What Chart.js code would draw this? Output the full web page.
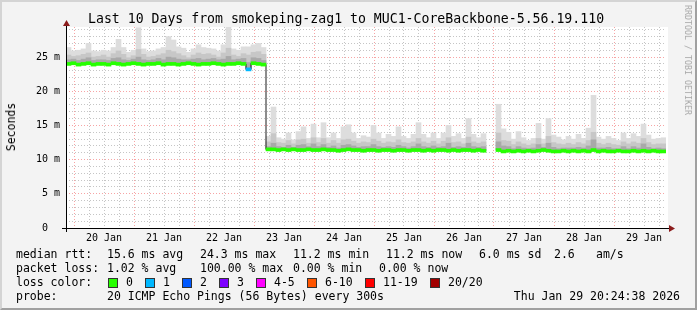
<!DOCTYPE html>
<html>
<head>
<meta charset="utf-8">
<script src="https://cdn.jsdelivr.net/npm/chart.js@4/dist/chart.umd.min.js"></script>
<style>
  body { margin: 0; background: #f3f3f3; }
  #wrap { position: relative; width: 697px; height: 310px; overflow: hidden; background: #f3f3f3; }
  #frame { position: absolute; left: 0; top: 0; width: 697px; height: 310px; box-sizing: border-box;
           border-left: 2px solid #d4d4d4; border-top: 2px solid #d4d4d4;
           border-right: 2px solid #a0a0a0; border-bottom: 2px solid #a0a0a0; pointer-events: none; }
  canvas { position: absolute; left: 0; top: 0; }
  .t { position: absolute; font-family: "DejaVu Sans Mono", monospace; font-size: 11.5px; line-height: 14px;
       color: #000; white-space: pre; }
  #title { position: absolute; left: 88px; top: 11px; font-family: "DejaVu Sans Mono", monospace;
           font-size: 13.2px; line-height: 16px; white-space: pre; color: #000; }
  #ylab { position: absolute; left: 11px; top: 127px; transform: translate(-50%, -50%) rotate(-90deg);
          font-family: "DejaVu Sans Mono", monospace; font-size: 11.5px; white-space: pre; }
  #credit { position: absolute; left: 688px; top: 60px; transform: translate(-50%, -50%) rotate(90deg);
            font-family: "DejaVu Sans Mono", monospace; font-size: 8.3px; color: #a8a8a8; white-space: pre; }
  .box { position: absolute; width: 8px; height: 8px; border: 1px solid #333; }
</style>
</head>
<body>
<div id="wrap">
  <canvas id="smoke" width="697" height="310"></canvas>
  <div id="title">Last 10 Days from smokeping-zag1 to MUC1-CoreBackbone-5.56.19.110</div>
  <div id="ylab">Seconds</div>
  <div id="credit">RRDTOOL / TOBI OETIKER</div>

  <div class="t" style="left:16px;top:247px">median rtt:</div>
  <div class="t" style="left:107px;top:247px">15.6 ms avg</div>
  <div class="t" style="left:200px;top:247px">24.3 ms max</div>
  <div class="t" style="left:293px;top:247px">11.2 ms min</div>
  <div class="t" style="left:386px;top:247px">11.2 ms now</div>
  <div class="t" style="left:479px;top:247px">6.0 ms sd</div>
  <div class="t" style="left:554px;top:247px">2.6</div>
  <div class="t" style="left:596px;top:247px">am/s</div>

  <div class="t" style="left:16px;top:261px">packet loss:</div>
  <div class="t" style="left:107px;top:261px">1.02 % avg</div>
  <div class="t" style="left:200px;top:261px">100.00 % max</div>
  <div class="t" style="left:293px;top:261px">0.00 % min</div>
  <div class="t" style="left:379px;top:261px">0.00 % now</div>

  <div class="t" style="left:16px;top:275px">loss color:</div>
  <div id="lossLegend"></div>

  <div class="t" style="left:16px;top:289px">probe:</div>
  <div class="t" style="left:107px;top:289px">20 ICMP Echo Pings (56 Bytes) every 300s</div>
  <div class="t" style="right:17px;top:289px">Thu Jan 29 20:24:38 2026</div>
  <div id="frame"></div>
</div>

<script>
// ======================================================================
// Data: 2-hour bins, first bin starts Jan 19 20:48 (hours from Jan 20 00:00)
// ======================================================================
const startHour = -3.2;
const binHours = 2;
const dayLabels = ["20 Jan", "21 Jan", "22 Jan", "23 Jan", "24 Jan", "25 Jan", "26 Jan", "27 Jan", "28 Jan", "29 Jan"];

// median rtt in ms
const medianRtt = [
  24.0, 24.1, 23.9, 24.0, 24.1, 23.9, 24.0, 24.0, 23.9, 24.1,
  24.0, 23.9, 24.0, 24.1, 24.0, 23.9, 24.0, 24.0, 24.1, 23.9,
  24.0, 24.0, 23.9, 24.0, 24.1, 24.0, 23.9, 24.0, 24.0, 24.1,
  24.0, 23.9, 24.0, 24.0, 24.1, 24.0, 23.2, 24.1, 24.0, 23.9,
  11.5, 11.5, 11.4, 11.5, 11.4, 11.5, 11.4, 11.4, 11.5, 11.4,
  11.4, 11.5, 11.4, 11.4, 11.3, 11.4, 11.5, 11.4, 11.4, 11.3,
  11.4, 11.4, 11.3, 11.4, 11.4, 11.3, 11.4, 11.4, 11.3, 11.4,
  11.4, 11.3, 11.4, 11.3, 11.4, 11.4, 11.3, 11.4, 11.3, 11.4,
  11.4, 11.3, 11.4, 11.3, null, null, 11.4, 11.2, 11.3, 11.2,
  11.3, 11.2, 11.3, 11.2, 11.3, 11.4, 11.3, 11.2, 11.2, 11.3,
  11.2, 11.3, 11.2, 11.3, 11.2, 11.4, 11.2, 11.3, 11.2, 11.2,
  11.3, 11.2, 11.2, 11.3, 11.2, 11.3, 11.2, 11.3, 11.2, 11.2
];

// top of the outer (lightest) smoke, ms
const smokeMax = [
  26.4, 25.9, 26.0, 26.2, 27.0, 25.9, 25.8, 26.0, 25.9, 26.4,
  27.6, 26.4, 25.7, 26.0, 29.3, 26.2, 25.8, 25.9, 26.2, 26.4,
  28.0, 27.5, 26.5, 26.3, 25.7, 26.2, 26.8, 26.4, 26.3, 26.2,
  25.9, 26.8, 29.4, 26.2, 26.0, 26.5, 26.5, 26.8, 27.0, 26.4,
  13.4, 17.7, 13.2, 13.0, 13.9, 12.9, 14.1, 14.8, 13.1, 15.2,
  13.2, 15.4, 13.2, 13.9, 13.1, 14.8, 15.1, 13.9, 13.1, 13.5,
  13.3, 15.0, 13.9, 13.1, 13.7, 13.4, 14.8, 13.4, 13.1, 13.7,
  15.4, 13.7, 13.2, 13.9, 13.1, 13.9, 15.0, 13.4, 13.8, 13.1,
  16.0, 13.7, 13.2, 13.8, null, null, 18.1, 14.5, 14.0, 13.0,
  14.1, 13.2, 12.8, 13.1, 15.3, 13.0, 16.0, 13.6, 13.3, 12.9,
  13.4, 13.0, 13.7, 13.1, 14.6, 19.4, 13.3, 13.0, 13.4, 13.1,
  12.8, 13.9, 13.1, 13.8, 13.4, 15.2, 13.6, 13.0, 13.1, 13.2
];

// top of the middle smoke band, ms
const smokeMid = [
  25.3, 25.1, 25.2, 25.4, 25.6, 25.0, 25.1, 25.3, 25.0, 25.5,
  25.9, 25.4, 24.9, 25.2, 26.1, 25.4, 25.0, 25.1, 25.3, 25.5,
  26.0, 25.8, 25.5, 25.2, 24.9, 25.3, 25.6, 25.4, 25.5, 25.3,
  25.0, 25.6, 26.3, 25.3, 25.1, 25.5, 25.3, 25.7, 25.8, 25.4,
  12.6, 13.8, 12.5, 12.4, 12.8, 12.3, 12.9, 13.0, 12.4, 13.2,
  12.5, 13.1, 12.4, 12.8, 12.4, 12.9, 13.0, 12.7, 12.4, 12.6,
  12.5, 13.0, 12.7, 12.4, 12.6, 12.5, 12.9, 12.5, 12.4, 12.6,
  13.1, 12.6, 12.4, 12.7, 12.3, 12.7, 13.2, 12.5, 12.6, 12.3,
  13.3, 12.6, 12.4, 12.6, null, null, 13.9, 12.8, 12.7, 12.2,
  12.6, 12.3, 12.1, 12.3, 13.1, 12.3, 13.4, 12.5, 12.3, 12.2,
  12.4, 12.2, 12.5, 12.3, 12.8, 14.0, 12.4, 12.2, 12.4, 12.2,
  12.1, 12.6, 12.3, 12.6, 12.4, 13.1, 12.5, 12.2, 12.3, 12.3
];

// top of the inner (darkest) smoke band, ms
const smokeInner = [
  24.6, 24.7, 24.5, 24.7, 24.9, 24.5, 24.6, 24.6, 24.5, 24.8,
  24.9, 24.6, 24.5, 24.7, 25.0, 24.6, 24.5, 24.6, 24.8, 24.6,
  25.0, 24.9, 24.7, 24.6, 24.6, 24.7, 24.8, 24.6, 24.7, 24.8,
  24.6, 24.7, 25.1, 24.6, 24.7, 24.8, 24.2, 24.9, 24.8, 24.5,
  11.9, 12.4, 11.9, 11.8, 12.1, 11.8, 12.1, 12.2, 11.9, 12.3,
  11.9, 12.2, 11.8, 12.0, 11.7, 12.1, 12.2, 12.0, 11.8, 11.9,
  11.9, 12.2, 11.9, 11.8, 11.9, 11.8, 12.1, 11.9, 11.7, 11.9,
  12.3, 11.9, 11.8, 12.0, 11.8, 11.9, 12.4, 11.8, 11.9, 11.8,
  12.4, 11.9, 11.8, 11.9, null, null, 12.6, 12.0, 11.9, 11.6,
  11.9, 11.7, 11.6, 11.7, 12.2, 11.8, 12.4, 11.8, 11.6, 11.7,
  11.7, 11.7, 11.8, 11.7, 12.0, 12.9, 11.7, 11.7, 11.8, 11.6,
  11.6, 11.9, 11.6, 11.9, 11.7, 12.3, 11.8, 11.6, 11.7, 11.6
];

// lost pings out of 20 per bin
const lossCount = [
  0, 0, 0, 0, 0, 0, 0, 0, 0, 0, 0, 0, 0, 0, 0, 0, 0, 0, 0, 0,
  0, 0, 0, 0, 0, 0, 0, 0, 0, 0, 0, 0, 0, 0, 0, 0, 1, 0, 0, 0,
  0, 0, 0, 0, 0, 0, 0, 0, 0, 0, 0, 0, 0, 0, 0, 0, 0, 0, 0, 0,
  0, 0, 0, 0, 0, 0, 0, 0, 0, 0, 0, 0, 0, 0, 0, 0, 0, 0, 0, 0,
  0, 0, 0, 0, 0, 0, 0, 0, 0, 0, 0, 0, 0, 0, 0, 0, 0, 0, 0, 0,
  0, 0, 0, 0, 0, 0, 0, 0, 0, 0, 0, 0, 0, 0, 0, 0, 0, 0, 0, 0
];

const lossLabels = ["0", "1", "2", "3", "4-5", "6-10", "11-19", "20/20"];
const lossColors = ["#26ff00", "#00b8ff", "#0059ff", "#7e00ff", "#ff00ff", "#ff5500", "#ff0000", "#a10000"];
const lossUpper = [0, 1, 2, 3, 5, 10, 19, 20];

// ======================================================================
// Loss color legend row
// ======================================================================
const boxLeft = [108, 145, 182, 219, 256, 307, 365, 430];
const lossLegend = document.getElementById("lossLegend");
lossLabels.forEach((label, i) => {
  const box = document.createElement("div");
  box.className = "box";
  box.style.left = boxLeft[i] + "px";
  box.style.top = "278px";
  box.style.background = lossColors[i];
  lossLegend.appendChild(box);
  const txt = document.createElement("div");
  txt.className = "t";
  txt.style.left = boxLeft[i] + 18 + "px";
  txt.style.top = "275px";
  txt.textContent = label;
  lossLegend.appendChild(txt);
});

// ======================================================================
// Chart
// ======================================================================
const binLabels = medianRtt.map((_, i) => startHour + i * binHours);
const endHour = startHour + medianRtt.length * binHours;
const lossColorOf = (n) => lossColors[lossUpper.findIndex((u) => n <= u)];
const band = (tops) => tops.map((v, i) => (v == null ? null : [medianRtt[i], v]));

// grid every 6 hours, day label at noon
function timeTicks() {
  const t = [];
  for (let v = 0; v < endHour; v += 6) {
    t.push({ value: v, label: v % 24 === 12 ? dayLabels[(v - 12) / 24] : "" });
  }
  return t;
}

const gridRed = "rgba(240, 90, 90, 0.55)";
const gridGray = "rgba(150, 150, 150, 0.55)";
const tickFont = { family: "DejaVu Sans Mono", size: 10 };

const axisPlugin = {
  id: "axisPlugin",
  beforeDraw(chart) {
    const { ctx, chartArea: a } = chart;
    ctx.save();
    ctx.fillStyle = "#ffffff";
    ctx.fillRect(a.left, a.top, a.right - a.left + 2, a.bottom - a.top);
    ctx.restore();
  },
  afterDraw(chart) {
    const { ctx, chartArea: a } = chart;
    ctx.save();
    ctx.strokeStyle = "#000";
    ctx.lineWidth = 1;
    ctx.beginPath();
    ctx.moveTo(a.left - 4, a.bottom + 0.5);
    ctx.lineTo(a.right + 4, a.bottom + 0.5);
    ctx.moveTo(a.left + 0.5, a.bottom + 4);
    ctx.lineTo(a.left + 0.5, a.top - 2);
    ctx.stroke();
    ctx.fillStyle = "#8b1c1c";
    ctx.beginPath();
    ctx.moveTo(a.right + 3, a.bottom - 3);
    ctx.lineTo(a.right + 9, a.bottom + 0.5);
    ctx.lineTo(a.right + 3, a.bottom + 4);
    ctx.fill();
    ctx.beginPath();
    ctx.moveTo(a.left - 3, a.top - 1);
    ctx.lineTo(a.left + 0.5, a.top - 7);
    ctx.lineTo(a.left + 4, a.top - 1);
    ctx.fill();
    ctx.restore();
  },
};

const barCommon = { grouped: false, barPercentage: 1, categoryPercentage: 1, borderWidth: 0, xAxisID: "x", yAxisID: "y" };

new Chart(document.getElementById("smoke"), {
  type: "bar",
  data: {
    labels: binLabels,
    datasets: [
      { ...barCommon, data: medianRtt.map((v) => (v == null ? null : [v - 0.22, v + 0.22])),
        backgroundColor: lossCount.map(lossColorOf), order: 0 },
      { type: "line", data: medianRtt, borderColor: "#1a1a1a", borderWidth: 1, pointRadius: 0,
        stepped: "middle", spanGaps: false, xAxisID: "x", yAxisID: "y", order: 1 },
      { ...barCommon, data: band(smokeInner), backgroundColor: "#a9a9a9", order: 2 },
      { ...barCommon, data: band(smokeMid), backgroundColor: "#c7c7c7", order: 3 },
      { ...barCommon, data: band(smokeMax), backgroundColor: "#dddddd", order: 4 },
    ],
  },
  options: {
    responsive: false,
    animation: false,
    layout: { padding: { left: 0, top: 27, right: 31, bottom: 62 } },
    plugins: { legend: { display: false }, tooltip: { enabled: false } },
    scales: {
      x: { type: "category", display: false, offset: true },
      time: {
        type: "linear",
        axis: "x",
        position: "bottom",
        offset: false,
        min: startHour,
        max: endHour,
        z: 1,
        afterBuildTicks: (s) => { s.ticks = timeTicks(); },
        // put back every 6-hour tick after Chart.js thins them out
        afterFit: (s) => {
          s.height = 20;
          s.ticks = timeTicks();
          s._labelSizes = null;
        },
        ticks: {
          autoSkip: false, maxRotation: 0, minRotation: 0, padding: 4, color: "#000", font: tickFont,
          callback: (v) => (v % 24 === 12 ? dayLabels[(v - 12) / 24] : ""),
        },
        grid: { offset: false, drawTicks: false, lineWidth: 1,
                color: (c) => (c.tick && c.tick.value % 24 === 0 ? gridRed : gridGray) },
        border: { display: false, dash: [1, 2] },
      },
      y: {
        min: 0,
        max: 29.4,
        z: 1,
        afterBuildTicks: (s) => {
          s.ticks = [];
          for (let v = 0; v <= 29; v++) s.ticks.push({ value: v });
        },
        afterFit: (s) => { s.width = 66; },
        ticks: {
          autoSkip: false, padding: 6, color: "#000", font: tickFont,
          callback: (v) => (v % 5 ? "" : v === 0 ? "0  " : v + " m"),
        },
        grid: { drawTicks: false, lineWidth: 1, color: (c) => (c.tick && c.tick.value % 5 === 0 ? gridRed : gridGray) },
        border: { display: false, dash: [1, 2] },
      },
    },
  },
  plugins: [axisPlugin],
});
</script>
</body>
</html>
